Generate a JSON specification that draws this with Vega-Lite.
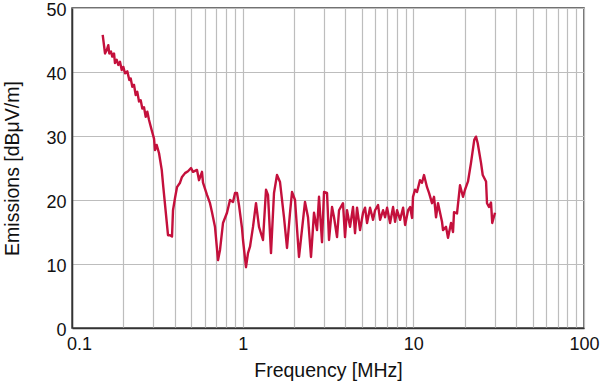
{
  "$schema": "https://vega.github.io/schema/vega-lite/v6.json",
  "width": 512,
  "height": 320,
  "autosize": {"type": "none"},
  "padding": {"left": 72, "top": 8, "right": 16, "bottom": 54},
  "background": "white",
  "config": {
    "font": "Liberation Sans",
    "view": {"stroke": "#444", "strokeWidth": 1.5},
    "axis": {
      "gridColor": "#bdbdbd",
      "gridWidth": 1.2,
      "domainColor": "#333",
      "domainWidth": 1.5,
      "ticks": false,
      "labelFont": "Liberation Sans",
      "titleFont": "Liberation Sans",
      "labelFontSize": 18,
      "titleFontSize": 19.5,
      "titleFontWeight": "normal",
      "labelColor": "#111",
      "titleColor": "#111"
    }
  },
  "data": {
    "values": [
      {"f": 0.1513, "v": 45.8}, {"f": 0.1561, "v": 42.9}, {"f": 0.1597, "v": 43.4}, {"f": 0.1632, "v": 44.2},
      {"f": 0.1654, "v": 42.9}, {"f": 0.1692, "v": 43.2}, {"f": 0.1722, "v": 42.4}, {"f": 0.1763, "v": 42.9},
      {"f": 0.1786, "v": 41.4}, {"f": 0.1828, "v": 41.9}, {"f": 0.1868, "v": 41.1}, {"f": 0.1911, "v": 41.6},
      {"f": 0.1956, "v": 40.3}, {"f": 0.1998, "v": 40.8}, {"f": 0.2045, "v": 39.8}, {"f": 0.2109, "v": 40.1},
      {"f": 0.2167, "v": 38.75}, {"f": 0.2208, "v": 39.0}, {"f": 0.2256, "v": 37.7}, {"f": 0.2308, "v": 38.0},
      {"f": 0.2362, "v": 36.4}, {"f": 0.2413, "v": 36.9}, {"f": 0.2470, "v": 35.4}, {"f": 0.2527, "v": 35.6},
      {"f": 0.2582, "v": 34.3}, {"f": 0.2642, "v": 34.5}, {"f": 0.2703, "v": 33.0}, {"f": 0.2763, "v": 33.8},
      {"f": 0.2827, "v": 32.5}, {"f": 0.2931, "v": 30.9}, {"f": 0.3024, "v": 29.6}, {"f": 0.3065, "v": 27.8},
      {"f": 0.3136, "v": 28.6}, {"f": 0.3236, "v": 27.3}, {"f": 0.3356, "v": 24.7}, {"f": 0.3428, "v": 22.0},
      {"f": 0.3652, "v": 14.5}, {"f": 0.3752, "v": 14.5}, {"f": 0.3855, "v": 14.3}, {"f": 0.3907, "v": 18.4},
      {"f": 0.4013, "v": 20.3}, {"f": 0.4123, "v": 22.0}, {"f": 0.4295, "v": 22.7}, {"f": 0.4411, "v": 23.6},
      {"f": 0.4594, "v": 24.2}, {"f": 0.4783, "v": 24.5}, {"f": 0.4982, "v": 25.0}, {"f": 0.5117, "v": 24.4},
      {"f": 0.5401, "v": 24.7}, {"f": 0.5549, "v": 23.1}, {"f": 0.5778, "v": 24.4}, {"f": 0.5856, "v": 22.7},
      {"f": 0.6180, "v": 20.8}, {"f": 0.6435, "v": 19.5}, {"f": 0.6611, "v": 18.1}, {"f": 0.6884, "v": 15.8},
      {"f": 0.7170, "v": 10.6}, {"f": 0.7366, "v": 12.2}, {"f": 0.7670, "v": 16.4}, {"f": 0.8094, "v": 18.0},
      {"f": 0.8430, "v": 20.0}, {"f": 0.8778, "v": 19.7}, {"f": 0.9018, "v": 21.1}, {"f": 0.9266, "v": 21.1},
      {"f": 0.9517, "v": 19.2}, {"f": 0.9910, "v": 15.6}, {"f": 1.0046, "v": 13.75}, {"f": 1.0459, "v": 9.5},
      {"f": 1.0747, "v": 11.7}, {"f": 1.1041, "v": 12.7}, {"f": 1.1496, "v": 15.8}, {"f": 1.1971, "v": 19.5},
      {"f": 1.2466, "v": 15.8}, {"f": 1.3155, "v": 13.75}, {"f": 1.3701, "v": 21.6}, {"f": 1.4075, "v": 20.8},
      {"f": 1.4656, "v": 11.7}, {"f": 1.5263, "v": 21.1}, {"f": 1.5893, "v": 23.9}, {"f": 1.6551, "v": 22.8},
      {"f": 1.7467, "v": 17.3}, {"f": 1.8189, "v": 12.5}, {"f": 1.8940, "v": 18.0}, {"f": 1.9458, "v": 21.25},
      {"f": 2.0264, "v": 20.0}, {"f": 2.1385, "v": 11.1}, {"f": 2.3187, "v": 19.7}, {"f": 2.4145, "v": 17.3},
      {"f": 2.5143, "v": 11.1}, {"f": 2.6182, "v": 18.0}, {"f": 2.7265, "v": 15.3}, {"f": 2.8013, "v": 20.5},
      {"f": 2.9170, "v": 13.4}, {"f": 2.9970, "v": 21.25}, {"f": 3.1209, "v": 21.1}, {"f": 3.2064, "v": 13.75},
      {"f": 3.3390, "v": 18.9}, {"f": 3.4305, "v": 17.3}, {"f": 3.5723, "v": 14.2}, {"f": 3.6702, "v": 18.4},
      {"f": 3.8724, "v": 19.5}, {"f": 3.9785, "v": 14.2}, {"f": 4.0876, "v": 18.4}, {"f": 4.2566, "v": 15.8},
      {"f": 4.4325, "v": 18.9}, {"f": 4.5540, "v": 14.8}, {"f": 4.6788, "v": 18.8}, {"f": 4.8722, "v": 15.3},
      {"f": 5.0737, "v": 18.0}, {"f": 5.2127, "v": 18.8}, {"f": 5.3556, "v": 16.4}, {"f": 5.5770, "v": 18.8},
      {"f": 5.8076, "v": 16.9}, {"f": 5.9667, "v": 18.4}, {"f": 6.2134, "v": 19.2}, {"f": 6.3837, "v": 16.9},
      {"f": 6.6476, "v": 18.4}, {"f": 6.8298, "v": 17.3}, {"f": 7.0170, "v": 18.8}, {"f": 7.3071, "v": 16.4},
      {"f": 7.6092, "v": 18.9}, {"f": 7.8177, "v": 16.6}, {"f": 8.0320, "v": 18.4}, {"f": 8.3640, "v": 16.9},
      {"f": 8.7098, "v": 18.8}, {"f": 8.9485, "v": 16.1}, {"f": 9.3184, "v": 18.4}, {"f": 9.5738, "v": 18.9},
      {"f": 9.8362, "v": 17.2}, {"f": 9.9550, "v": 20.5}, {"f": 10.228, "v": 21.6}, {"f": 10.508, "v": 21.25},
      {"f": 10.942, "v": 23.1}, {"f": 11.242, "v": 22.7}, {"f": 11.550, "v": 23.9}, {"f": 12.027, "v": 22.0},
      {"f": 12.357, "v": 21.1}, {"f": 12.867, "v": 19.5}, {"f": 13.220, "v": 20.5}, {"f": 13.582, "v": 17.3},
      {"f": 13.954, "v": 19.5}, {"f": 14.723, "v": 16.6}, {"f": 14.923, "v": 15.3}, {"f": 15.540, "v": 15.8},
      {"f": 15.966, "v": 14.1}, {"f": 16.626, "v": 16.4}, {"f": 17.082, "v": 15.0}, {"f": 17.315, "v": 18.1},
      {"f": 18.031, "v": 17.9}, {"f": 18.769, "v": 22.3}, {"f": 19.543, "v": 20.5}, {"f": 20.079, "v": 21.6},
      {"f": 20.910, "v": 22.9}, {"f": 21.770, "v": 25.8}, {"f": 22.75, "v": 29.4}, {"f": 23.29, "v": 29.9},
      {"f": 23.82, "v": 28.9}, {"f": 24.92, "v": 25.8}, {"f": 25.50, "v": 23.9}, {"f": 26.67, "v": 22.9},
      {"f": 27.02, "v": 19.5}, {"f": 27.76, "v": 18.9}, {"f": 28.52, "v": 19.6}, {"f": 29.00, "v": 16.4},
      {"f": 30.10, "v": 18.0}
    ]
  },
  "mark": {"type": "line", "color": "#c4103c", "strokeWidth": 2.4, "strokeJoin": "round", "clip": true},
  "encoding": {
    "x": {
      "field": "f",
      "type": "quantitative",
      "scale": {"type": "log", "domain": [0.1, 100], "nice": false},
      "axis": {
        "title": "Frequency [MHz]",
        "values": [0.1, 0.2, 0.3, 0.4, 0.5, 0.6, 0.7, 0.8, 0.9, 1, 2, 3, 4, 5, 6, 7, 8, 9, 10, 20, 30, 40, 50, 60, 70, 80, 90, 100],
        "labelExpr": "indexof([0.1, 1, 10, 100], datum.value) >= 0 ? datum.label : ''",
        "format": "~g",
        "labelPadding": 7,
        "labelOffset": {"condition": {"test": "datum.value < 0.15", "value": 7}, "value": 0},
        "titlePadding": 8,
        "labelOverlap": false,
        "labelFlush": false
      }
    },
    "y": {
      "field": "v",
      "type": "quantitative",
      "scale": {"domain": [0, 50], "nice": false},
      "axis": {
        "title": "Emissions [dBμV/m]",
        "values": [0, 10, 20, 30, 40, 50],
        "labelPadding": 6,
        "labelOffset": 2.5,
        "titlePadding": 23,
        "labelFlush": false
      }
    }
  }
}
